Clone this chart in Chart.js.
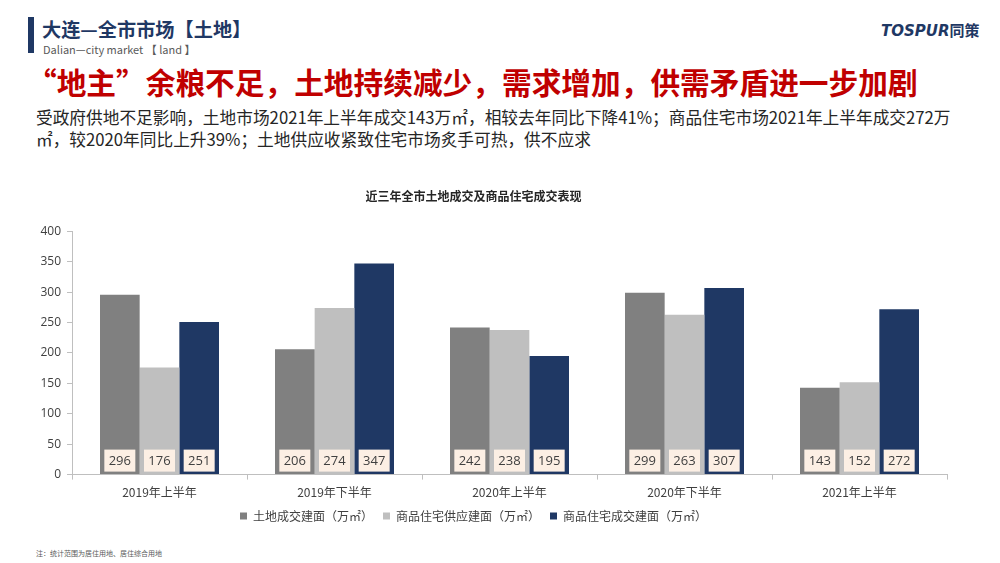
<!DOCTYPE html>
<html>
<head>
<meta charset="utf-8">
<script src="https://cdn.jsdelivr.net/npm/chart.js@4.4.0/dist/chart.umd.min.js"></script>
<style>
  body { margin: 0; width: 1000px; height: 563px; background: #fff; position: relative; overflow: hidden;
         font-family: "Noto Sans CJK SC", "Noto Sans", sans-serif; }
  .bar { position: absolute; left: 28px; top: 17px; width: 6px; height: 36px; background: #1f3864; }
  .head { position: absolute; left: 42px; top: 17px; font-size: 19.2px; font-weight: bold; color: #1f3864; line-height: 24px; }
  .sub { position: absolute; left: 43px; top: 42px; font-size: 11px; color: #595959; line-height: 14px; }
  .logo { position: absolute; left: 881px; top: 19px; font-family: "DejaVu Sans", sans-serif; font-size: 15px;
          font-weight: bold; font-style: italic; color: #1f3864; }
  .logo span { font-family: "Noto Sans CJK SC"; font-style: normal; }
  .headline { position: absolute; left: 27px; top: 62px; font-size: 29.7px; font-weight: bold; color: #c00000; line-height: 40px; white-space: nowrap; }
  .para { position: absolute; left: 36px; top: 106px; font-size: 16.7px; color: #262626; line-height: 22px; white-space: nowrap; }
  .note { position: absolute; left: 36px; top: 548px; font-size: 7px; color: #595959; }
  #wrap { position: absolute; left: 0; top: 180px; width: 1000px; height: 371px; }
</style>
</head>
<body>
<div class="bar"></div>
<div class="head">大连—全市市场【土地】</div>
<div class="sub">Dalian—city market 【 land 】</div>
<div class="logo">TOSPUR<span>同策</span></div>
<div class="headline">“地主”余粮不足，土地持续减少，需求增加，供需矛盾进一步加剧</div>
<div class="para">受政府供地不足影响，土地市场2021年上半年成交143万㎡，相较去年同比下降41%；商品住宅市场2021年上半年成交272万<br>㎡，较2020年同比上升39%；土地供应收紧致住宅市场炙手可热，供不应求</div>
<div class="note">注：统计范围为居住用地、居住综合用地</div>
<div id="wrap"><canvas id="chart"></canvas></div>
<script>
// Data
const periods = ["2019年上半年", "2019年下半年", "2020年上半年", "2020年下半年", "2021年上半年"];
const landDeals = [296, 206, 242, 299, 143];
const houseSupply = [176, 274, 238, 263, 152];
const houseDeals = [251, 347, 195, 307, 272];
const yTicks = [0, 50, 100, 150, 200, 250, 300, 350, 400];

// value boxes at the bottom of each bar
const boxLabels = {
    id: "boxLabels",
    afterDatasetsDraw(chart) {
        const ctx = chart.ctx;
        const bottom = chart.chartArea.bottom;
        ctx.save();
        ctx.font = "13px 'Open Sans', 'Noto Sans', sans-serif";
        ctx.textAlign = "center";
        ctx.textBaseline = "middle";
        chart.data.datasets.forEach((ds, i) => {
            chart.getDatasetMeta(i).data.forEach((bar, j) => {
                const w = 31, h = 22;
                const x = bar.x - w / 2, y = bottom - h - 3;
                ctx.fillStyle = "#fcefe4";
                ctx.fillRect(x, y, w, h);
                ctx.fillStyle = "#404040";
                ctx.fillText(ds.data[j], bar.x, y + h / 2 + 1);
            });
        });
        ctx.restore();
    }
};

document.addEventListener("DOMContentLoaded", () => {
    const ctx = document.getElementById("chart").getContext("2d");
    new Chart(ctx, {
        type: "bar",
        data: {
            labels: periods,
            datasets: [
                // trailing spaces widen the gap between legend items
                { label: "土地成交建面（万㎡）　", data: landDeals, backgroundColor: "#808080" },
                { label: "商品住宅供应建面（万㎡）　", data: houseSupply, backgroundColor: "#bfbfbf" },
                { label: "商品住宅成交建面（万㎡）", data: houseDeals, backgroundColor: "#1f3864" },
            ],
        },
        options: {
            responsive: true,
            maintainAspectRatio: false,
            animation: false,
            layout: { padding: { left: 0, right: 53, top: 0, bottom: 19 } },
            datasets: { bar: { categoryPercentage: 0.68, barPercentage: 1 } },
            plugins: {
                title: {
                    display: true,
                    text: "近三年全市土地成交及商品住宅成交表现",
                    color: "#262626",
                    font: { size: 12, weight: "bold", family: "'Noto Sans CJK SC'" },
                    padding: { top: 9, bottom: 28 },
                },
                legend: {
                    position: "bottom",
                    labels: {
                        usePointStyle: true,
                        pointStyle: "rect",
                        boxWidth: 7,
                        boxHeight: 7,
                        padding: 4,
                        color: "#404040",
                        font: { size: 12, family: "'Noto Sans CJK SC'" },
                    },
                },
                tooltip: { enabled: false },
            },
            scales: {
                x: {
                    grid: { display: true, drawOnChartArea: false, tickLength: 5, color: "#bfbfbf" },
                    border: { color: "#bfbfbf" },
                    ticks: { color: "#404040", font: { size: 12, family: "'Noto Sans CJK SC'" }, padding: 6 },
                },
                y: {
                    min: 0,
                    max: 400,
                    afterBuildTicks: (axis) => { axis.ticks = yTicks.map((v) => ({ value: v })); },
                    afterFit: (axis) => { axis.width = 72; },
                    grid: { display: true, drawOnChartArea: false, tickLength: 5, color: "#bfbfbf" },
                    border: { color: "#bfbfbf" },
                    ticks: { color: "#404040", font: { size: 12, family: "'Open Sans'" }, padding: 6 },
                },
            },
        },
        plugins: [boxLabels],
    });
});
</script>
</body>
</html>
